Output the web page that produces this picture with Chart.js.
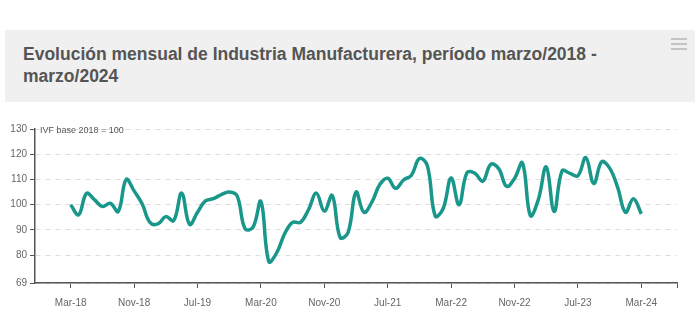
<!DOCTYPE html>
<html>
<head>
<meta charset="utf-8">
<script src="https://cdn.jsdelivr.net/npm/chart.js@4"></script>
<style>
  html, body { margin: 0; padding: 0; background: #ffffff; }
  #wrap { position: relative; width: 700px; height: 333px; overflow: hidden; font-family: "Liberation Sans", Arial, sans-serif; }
  #panel { position: absolute; left: 5px; top: 30px; width: 690px; height: 72px; background: #f0f0f0; }
  #title { position: absolute; left: 18px; top: 13px; width: 630px; font-size: 17.5px; line-height: 22px; font-weight: bold; color: #555555; }
  #menu { position: absolute; right: 8px; top: 8px; width: 16px; }
  #menu div { height: 2px; background: #c4c4c4; margin-bottom: 3px; }
  #note { position: absolute; left: 40px; top: 125px; font-size: 9px; color: #555555; }
  canvas { position: absolute; left: 0; top: 0; }
</style>
</head>
<body>
<div id="wrap">
  <canvas id="c" width="700" height="333"></canvas>
  <div id="panel">
    <div id="title">Evolución mensual de Industria Manufacturera, período marzo/2018 - marzo/2024</div>
    <div id="menu"><div></div><div></div><div></div></div>
  </div>
  <div id="note">IVF base 2018 = 100</div>
</div>
<script>
const months = [
  "Mar-18","Abr-18","May-18","Jun-18","Jul-18","Ago-18","Sep-18","Oct-18","Nov-18","Dic-18",
  "Ene-19","Feb-19","Mar-19","Abr-19","May-19","Jun-19","Jul-19","Ago-19","Sep-19","Oct-19","Nov-19","Dic-19",
  "Ene-20","Feb-20","Mar-20","Abr-20","May-20","Jun-20","Jul-20","Ago-20","Sep-20","Oct-20","Nov-20","Dic-20",
  "Ene-21","Feb-21","Mar-21","Abr-21","May-21","Jun-21","Jul-21","Ago-21","Sep-21","Oct-21","Nov-21","Dic-21",
  "Ene-22","Feb-22","Mar-22","Abr-22","May-22","Jun-22","Jul-22","Ago-22","Sep-22","Oct-22","Nov-22","Dic-22",
  "Ene-23","Feb-23","Mar-23","Abr-23","May-23","Jun-23","Jul-23","Ago-23","Sep-23","Oct-23","Nov-23","Dic-23",
  "Ene-24","Feb-24","Mar-24"
];
const ivf = [
  100, 96, 104.5, 102, 99.3, 100.6, 97.3, 110, 105.5, 100.5,
  93, 92.4, 95.3, 93.7, 104.6, 92.2, 97, 101.5, 102.4, 104, 105, 103.5,
  90.5, 91, 101.3, 77.5, 81, 88.5, 93, 93, 98, 104.6, 97.5, 103.7,
  87, 89, 105, 97, 101, 108, 110.5, 106.5, 109.8, 111.7, 118.3, 115.5,
  95.5, 98.5, 110.6, 100, 112.7, 112.5, 109.3, 116, 114.3, 107.3, 110.4, 116.6,
  95.7, 102, 115, 97.3, 113.4, 112.4, 111.5, 118.7, 108.4, 117, 114.5, 107,
  97, 102.4, 96.4
];
const xTickIdx = [0, 8, 16, 24, 32, 40, 48, 56, 64, 72];
const yTicks = [69, 80, 90, 100, 110, 120, 130];

new Chart(document.getElementById('c'), {
  type: 'line',
  data: {
    datasets: [{
      data: ivf.map((v, i) => ({ x: i, y: v })),
      borderColor: '#18978a',
      borderWidth: 3.5,
      pointRadius: 0,
      tension: 0.4,
      fill: false
    }]
  },
  options: {
    responsive: false,
    animation: false,
    layout: { padding: { top: 129, right: 23, left: 0, bottom: 0 } },
    plugins: { legend: { display: false }, tooltip: { enabled: false }, title: { display: false } },
    scales: {
      x: {
        type: 'linear',
        min: -4.5,
        max: 76.5,
        afterBuildTicks: s => { s.ticks = xTickIdx.map(v => ({ value: v })).concat([{ value: 76.5 }]); },
        afterFit: s => { s.height = 50; },
        ticks: {
          autoSkip: false, maxRotation: 0, padding: 9,
          color: '#666666', font: { family: 'Liberation Sans', size: 10 },
          callback: v => (months[v] !== undefined && xTickIdx.includes(v)) ? months[v] : ''
        },
        grid: { drawOnChartArea: false, drawTicks: true, tickLength: 5, tickColor: '#555555', tickWidth: 1 },
        border: { display: true, color: '#555555', width: 1.5 }
      },
      y: {
        min: 69,
        max: 130,
        afterBuildTicks: s => { s.ticks = yTicks.map(v => ({ value: v })); },
        afterFit: s => { s.width = 35; },
        ticks: { padding: 3, color: '#666666', font: { family: 'Liberation Sans', size: 10 } },
        grid: { color: '#dddddd', lineWidth: 1, drawTicks: true, tickLength: 5, tickColor: '#555555', tickWidth: 1 },
        border: { display: true, color: '#555555', width: 1.5, dash: [5, 5] }
      }
    }
  }
});
</script>
</body>
</html>
